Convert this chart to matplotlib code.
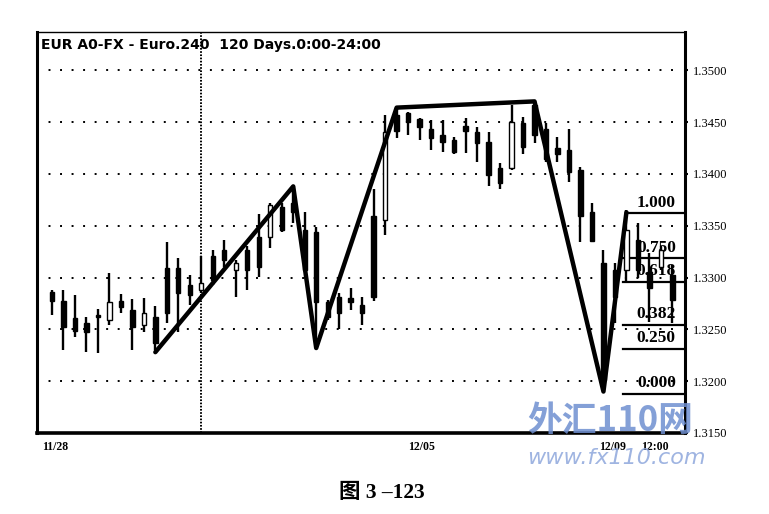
import matplotlib
matplotlib.use("Agg")
import matplotlib.pyplot as plt
import numpy as np

# 4-hour EUR bars
opens = [1.3286, 1.3277, 1.3261, 1.3256, 1.3264, 1.3259, 1.3277, 1.3269, 1.3254, 1.3262,
         1.3309, 1.3309, 1.3293, 1.3288, 1.3321, 1.3327, 1.3307, 1.3327, 1.3339, 1.3339,
         1.3368, 1.3372, 1.3346, 1.3344, 1.3276, 1.3281, 1.3280, 1.3274, 1.3359, 1.3356,
         1.3457, 1.3459, 1.3453, 1.3443, 1.3438, 1.3433, 1.3446, 1.3440, 1.3431, 1.3406,
         1.3406, 1.3449, 1.3467, 1.3443, 1.3425, 1.3423, 1.3404, 1.3363, 1.3314, 1.3307,
         1.3307, 1.3336, 1.3305, 1.3310, 1.3302]
highs = [1.3288, 1.3288, 1.3283, 1.3262, 1.3270, 1.3304, 1.3284, 1.3279, 1.3280, 1.3273,
         1.3334, 1.3319, 1.3302, 1.3321, 1.3327, 1.3336, 1.3317, 1.3330, 1.3361, 1.3372,
         1.3372, 1.3388, 1.3363, 1.3349, 1.3278, 1.3285, 1.3290, 1.3281, 1.3385, 1.3457,
         1.3464, 1.3460, 1.3454, 1.3452, 1.3452, 1.3436, 1.3454, 1.3445, 1.3440, 1.3411,
         1.3467, 1.3455, 1.3470, 1.3449, 1.3436, 1.3443, 1.3407, 1.3372, 1.3327, 1.3314,
         1.3365, 1.3353, 1.3324, 1.3330, 1.3312]
lows = [1.3264, 1.3230, 1.3243, 1.3228, 1.3227, 1.3254, 1.3266, 1.3230, 1.3247, 1.3230,
        1.3256, 1.3247, 1.3274, 1.3285, 1.3293, 1.3310, 1.3281, 1.3288, 1.3301, 1.3329,
        1.3344, 1.3353, 1.3305, 1.3232, 1.3259, 1.3250, 1.3269, 1.3254, 1.3277, 1.3341,
        1.3435, 1.3438, 1.3433, 1.3423, 1.3421, 1.3419, 1.3420, 1.3412, 1.3388, 1.3385,
        1.3404, 1.3419, 1.3430, 1.3412, 1.3412, 1.3392, 1.3334, 1.3334, 1.3192, 1.3256,
        1.3295, 1.3300, 1.3257, 1.3307, 1.3256]
closes = [1.3277, 1.3252, 1.3248, 1.3247, 1.3262, 1.3276, 1.3272, 1.3252, 1.3266, 1.3237,
          1.3266, 1.3285, 1.3283, 1.3295, 1.3298, 1.3317, 1.3314, 1.3307, 1.3310, 1.3370,
          1.3346, 1.3363, 1.3307, 1.3276, 1.3262, 1.3266, 1.3276, 1.3266, 1.3281, 1.3440,
          1.3441, 1.3450, 1.3445, 1.3435, 1.3431, 1.3421, 1.3441, 1.3430, 1.3399, 1.3391,
          1.3450, 1.3426, 1.3438, 1.3414, 1.3419, 1.3402, 1.3359, 1.3335, 1.3201, 1.3281,
          1.3346, 1.3307, 1.3290, 1.3327, 1.3278]

# swing line (bar index, price)
zig_idx = [9, 21, 23, 30, 42, 48, 50]
zig_price = [1.3228, 1.3388, 1.3232, 1.3464, 1.3470, 1.3190, 1.3363]

# fibonacci retracement of last swing
fib_low = 1.3188
fib_high = 1.3362
fib_levels = [0.000, 0.250, 0.382, 0.618, 0.750, 1.000]
fib_labels = ["0.000", "0.250", "0.382", "0.618", "0.750", "1.000"]

yticks = [1.3150, 1.3200, 1.3250, 1.3300, 1.3350, 1.3400, 1.3450, 1.3500]
date_pos = [0.3, 32.2, 48.8, 52.5]
date_labels = ["11/28", "12/05", "12/09", "12:00"]

plt.rcParams['lines.scale_dashes'] = False

fig = plt.figure(figsize=(7.69, 5.14), dpi=100)
ax = fig.add_axes([0.0481, 0.1576, 0.8427, 0.7802])

xmin, xmax = -1.3, 55.1
ax.set_xlim(xmin, xmax)
ax.set_ylim(1.3150, 1.3537)

# dotted grid
for yv in yticks[1:]:
    ax.plot([xmin, xmax - 0.5], [yv, yv], color="black", lw=1.4,
            dashes=(1.4, 6.9), zorder=1)
ax.axvline(13, color="black", lw=1.4, dashes=(1.2, 1.1), zorder=1)

# candles
x = np.arange(len(opens))
ax.vlines(x, lows, highs, color="black", lw=1.7, zorder=3)
for i in range(len(opens)):
    lo = min(opens[i], closes[i])
    h = abs(closes[i] - opens[i])
    face = "white" if closes[i] > opens[i] else "black"
    ax.bar(i, max(h, 0.00005), bottom=lo, width=0.38, color=face,
           edgecolor="black", linewidth=1.0, zorder=4)

ax.plot(zig_idx, zig_price, color="black", lw=3.2, solid_capstyle="round",
        solid_joinstyle="round", zorder=5)

# fib levels
rng = fib_high - fib_low
for lv, lab in zip(fib_levels, fib_labels):
    yv = fib_low + lv * rng
    start = 50.1 if lv == 1.0 else 49.7
    ax.plot([start, xmax], [yv, yv], color="black", lw=1.6, zorder=2)
    ax.annotate(lab, (54.3, yv), xytext=(0, 2), textcoords="offset points",
                ha="right", va="bottom", fontsize=12.5, fontweight="bold",
                family="Liberation Serif", zorder=2)

ax.text(0.006, 0.985, "EUR A0-FX - Euro.240  120 Days.0:00-24:00",
        transform=ax.transAxes, ha="left", va="top", fontsize=10,
        fontweight="bold", family="DejaVu Sans")

ax.yaxis.tick_right()
ax.set_yticks(yticks)
ax.set_yticklabels(["%.4f" % v for v in yticks], family="Liberation Serif",
                   fontsize=9)
ax.tick_params(axis="y", length=2, width=1.5, pad=4)
ax.set_xticks(date_pos)
ax.set_xticklabels(date_labels, family="Liberation Serif", fontsize=8.5,
                   fontweight="bold")
ax.tick_params(axis="x", length=0, pad=6)

ax.spines["left"].set_linewidth(2.2)
ax.spines["bottom"].set_linewidth(2.6)
ax.spines["right"].set_linewidth(2.2)
ax.spines["top"].set_linewidth(1.0)

# watermark of the scan
fig.text(0.685, 0.148, "外汇110网", fontsize=25, fontweight="bold",
         style="italic", color="#6f8fd0", alpha=0.85,
         family=["Noto Sans CJK SC", "DejaVu Sans"], ha="left", va="bottom")
fig.text(0.686, 0.09, "www.fx110.com", fontsize=16, style="italic",
         color="#8ea7dc", alpha=0.85, family="DejaVu Sans", ha="left",
         va="bottom")

fig.text(0.497, 0.041, "图 3 –123", fontsize=15.5, fontweight="bold",
         family=["Liberation Serif", "Noto Sans CJK SC"], ha="center",
         va="center")

fig.savefig("out.png", dpi=100)
